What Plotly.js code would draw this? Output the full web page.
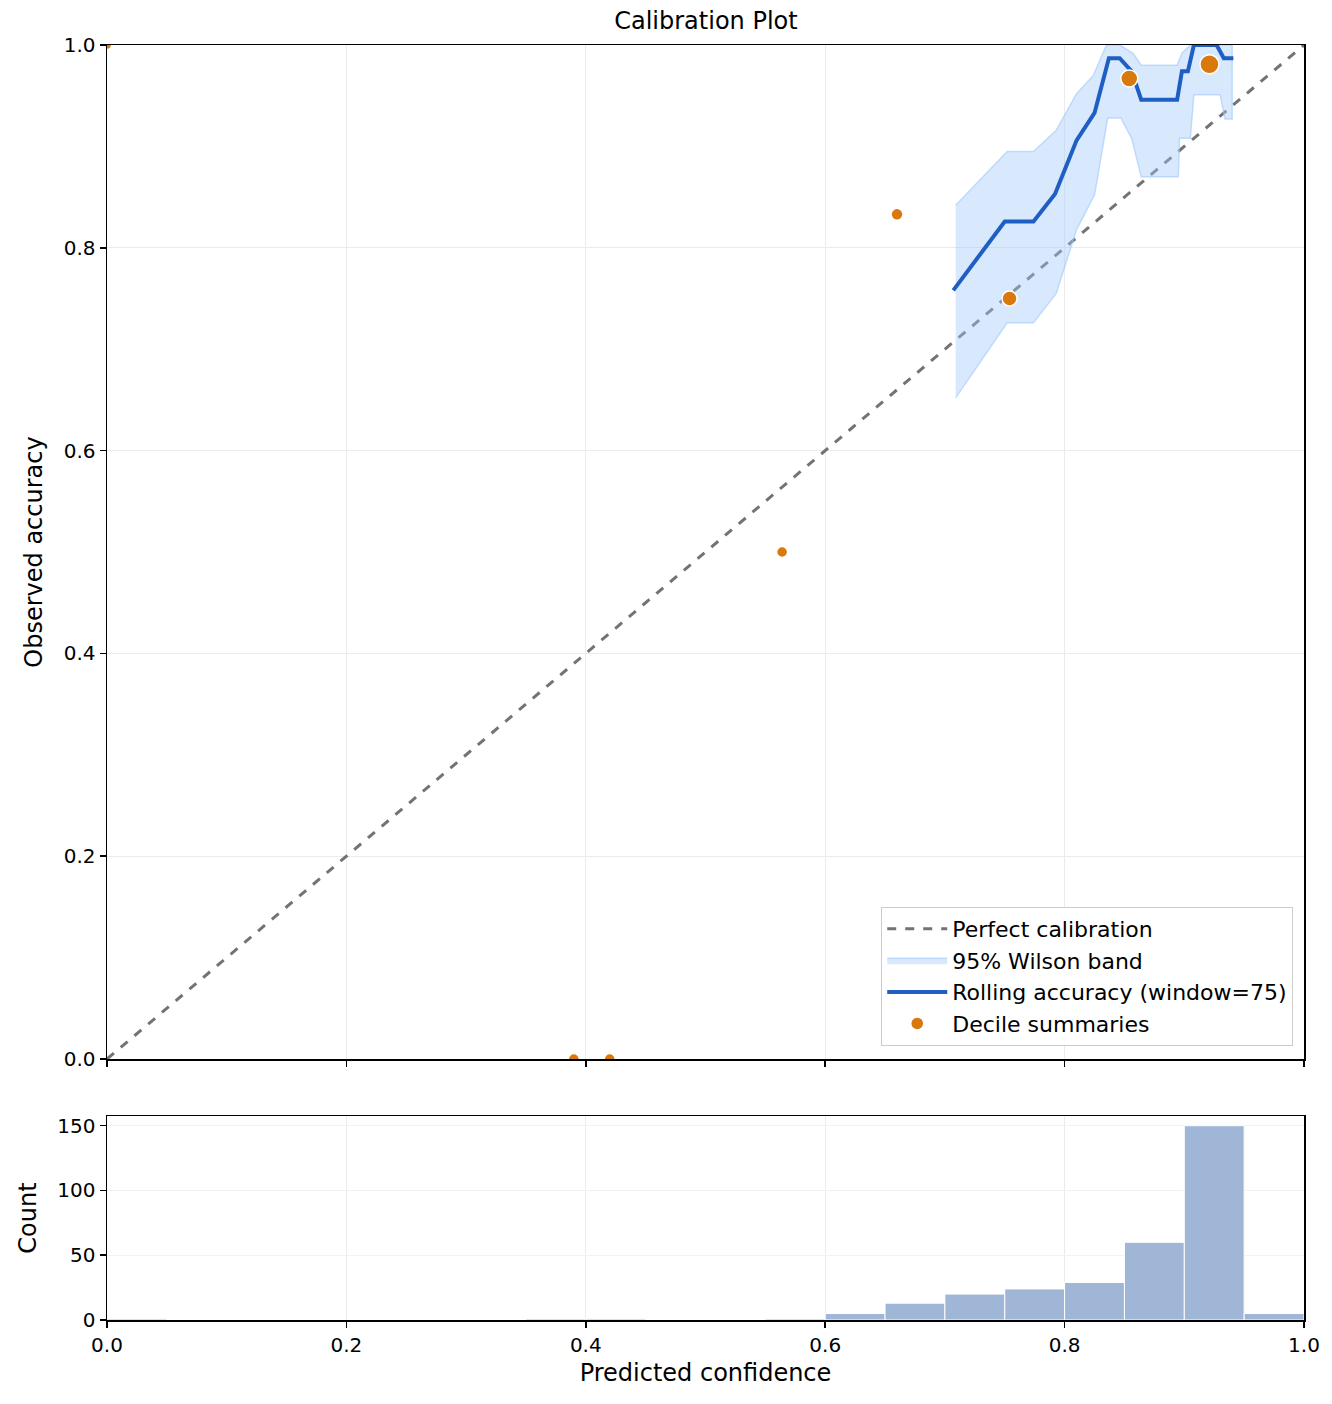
<!DOCTYPE html>
<html>
<head>
<meta charset="utf-8">
<script src="https://cdn.plot.ly/plotly-3.0.1.min.js"></script>
<style>body{margin:0;background:#fff}</style>
</head>
<body>
<div id="chart" style="width:1332px;height:1404px"></div>
<script>
// rolling accuracy (window=75)
var rollX = [0.707, 0.750, 0.774, 0.792, 0.810, 0.825, 0.837, 0.846, 0.856, 0.864, 0.894, 0.898, 0.903, 0.908, 0.927, 0.933, 0.941];
var rollY = [0.758, 0.826, 0.826, 0.853, 0.906, 0.933, 0.987, 0.987, 0.974, 0.946, 0.946, 0.974, 0.974, 1.0, 1.0, 0.987, 0.987];

// Wilson band edges
var upX = [0.709, 0.752, 0.774, 0.793, 0.810, 0.824, 0.835, 0.846, 0.857, 0.864, 0.894, 0.898, 0.905, 0.940];
var upY = [0.842, 0.895, 0.895, 0.916, 0.952, 0.970, 1.0, 1.0, 0.992, 0.980, 0.980, 0.992, 1.0, 1.0];
var loX = [0.709, 0.752, 0.774, 0.793, 0.810, 0.825, 0.836, 0.847, 0.856, 0.864, 0.895, 0.896, 0.905, 0.908, 0.930, 0.934, 0.940];
var loY = [0.652, 0.726, 0.726, 0.755, 0.818, 0.852, 0.928, 0.928, 0.908, 0.870, 0.870, 0.908, 0.908, 0.951, 0.951, 0.927, 0.927];

// decile summaries
var decX = [0.0, 0.39, 0.42, 0.564, 0.66, 0.754, 0.854, 0.921];
var decY = [1.0, 0.0, 0.0, 0.5, 0.833, 0.75, 0.967, 0.981];
var decSize = [9, 11, 11, 11, 12, 15, 17, 19];

// histogram of predicted confidence (bin width 0.05)
var binMid = [0.025, 0.375, 0.425, 0.575, 0.625, 0.675, 0.725, 0.775, 0.825, 0.875, 0.925, 0.975];
var binCount = [1, 1, 1, 1, 5, 13, 20, 24, 29, 60, 150, 5];

var bandX = upX.concat(loX.slice().reverse());
var bandY = upY.concat(loY.slice().reverse());

var traces = [
  {x: [0, 1], y: [0, 1], mode: 'lines', name: 'Perfect calibration',
   line: {color: '#737373', width: 3, dash: 'dash'}, xaxis: 'x', yaxis: 'y'},
  {x: bandX, y: bandY, mode: 'lines', fill: 'toself', name: '95% Wilson band',
   fillcolor: 'rgba(160,200,250,0.4)', line: {color: 'rgba(160,200,250,0.6)', width: 1.5},
   xaxis: 'x', yaxis: 'y'},
  {x: rollX, y: rollY, mode: 'lines', name: 'Rolling accuracy (window=75)',
   line: {color: '#1f5fc4', width: 4}, xaxis: 'x', yaxis: 'y'},
  {x: decX, y: decY, mode: 'markers', name: 'Decile summaries', opacity: 1,
   marker: {color: '#d9780c', opacity: 1, size: decSize, line: {color: '#fff', width: 1.5}},
   xaxis: 'x', yaxis: 'y'},
  {x: binMid, y: binCount, type: 'bar', width: 0.05, showlegend: false,
   marker: {color: '#9fb6d6', line: {color: '#fff', width: 1}}, xaxis: 'x2', yaxis: 'y2'}
];

var ax = {
  showline: true, mirror: true, linecolor: '#000', linewidth: 1.5,
  ticks: 'outside', ticklen: 6, tickwidth: 1.5, tickcolor: '#000',
  gridcolor: '#ebebeb', zeroline: false, tickfont: {size: 20}
};

var layout = {
  width: 1332, height: 1404,
  font: {family: 'DejaVu Sans', size: 20, color: '#000'},
  margin: {l: 107, r: 28, t: 45, b: 84},
  paper_bgcolor: '#fff', plot_bgcolor: '#fff',
  title: {text: 'Calibration Plot', font: {size: 24}, x: 0.53, y: 0.985, yanchor: 'middle'},
  xaxis: Object.assign({}, ax, {domain: [0, 1], range: [0, 1], anchor: 'y', showticklabels: false, dtick: 0.2}),
  yaxis: Object.assign({}, ax, {domain: [0.2047, 1], range: [0, 1], dtick: 0.2, tickformat: '.1f',
    title: {text: 'Observed accuracy', standoff: 14}}),
  xaxis2: Object.assign({}, ax, {domain: [0, 1], range: [0, 1], anchor: 'y2', dtick: 0.2, tickformat: '.1f',
    title: {text: 'Predicted confidence', standoff: 8}}),
  yaxis2: Object.assign({}, ax, {domain: [0, 0.16], range: [0, 157.5], tickvals: [0, 50, 100, 150], anchor: 'x2',
    gridcolor: '#f2f2f2', title: {text: 'Count', standoff: 14}}),
  showlegend: true,
  legend: {x: 0.991, y: 0.215, xanchor: 'right', yanchor: 'bottom', bgcolor: 'rgba(255,255,255,0.85)',
    bordercolor: '#cccccc', borderwidth: 1, font: {size: 22}, traceorder: 'normal', itemwidth: 60}
};

Plotly.newPlot('chart', traces, layout, {staticPlot: true});
</script>
</body>
</html>
